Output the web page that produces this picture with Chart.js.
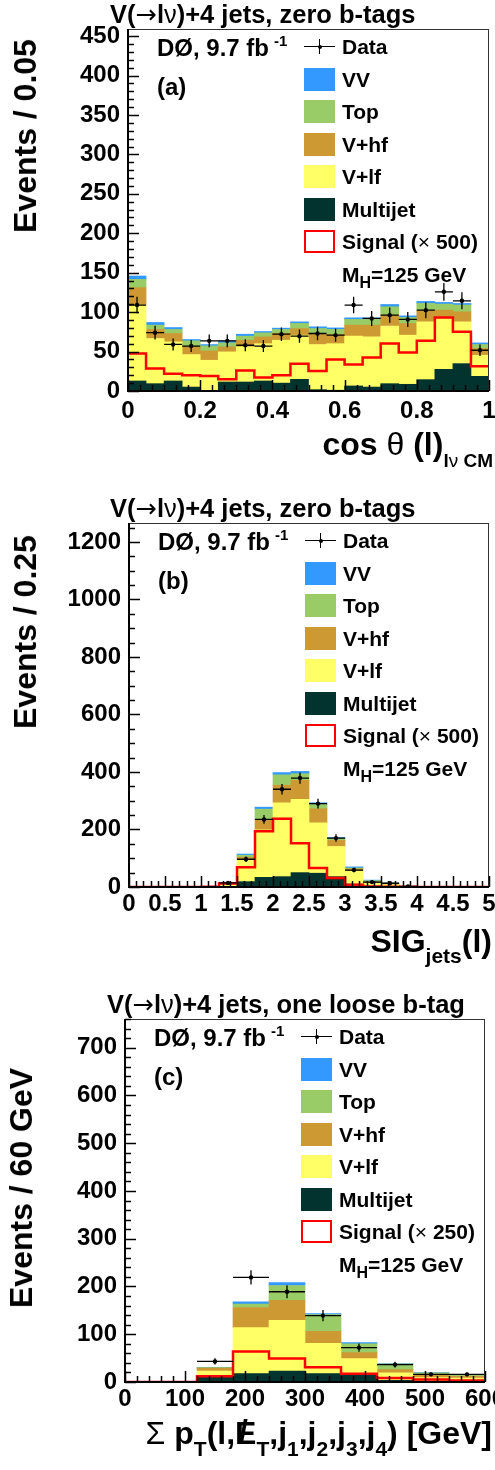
<!DOCTYPE html>
<html>
<head>
<meta charset="utf-8">
<script src="https://cdn.jsdelivr.net/npm/chart.js@4.4.1/dist/chart.umd.min.js"></script>
<style>
body{margin:0;background:#fff;width:495px;height:1470px;position:relative;overflow:hidden;
  font-family:"Liberation Sans",Arial,sans-serif;font-weight:bold;color:#000}
canvas{position:absolute;left:0}
.t{position:absolute;white-space:nowrap;line-height:1;z-index:2}
.sym{font-weight:normal}
.arr{font-weight:normal;font-family:"DejaVu Sans",sans-serif}
.sub{position:relative}
.yt{position:absolute;white-space:nowrap;line-height:1;font-size:32px;transform:translate(-50%,-50%) rotate(-90deg);z-index:2}
</style>
</head>
<body>
<canvas id="chartA" width="495" height="430" style="top:0px"></canvas>
<canvas id="chartB" width="495" height="450" style="top:480px"></canvas>
<canvas id="chartC" width="495" height="440" style="top:990px"></canvas>

<div class="t" style="left:110px;top:2px;font-size:25.5px">V(<span class="arr">→</span>l<span class="sym">ν</span>)+4 jets, zero b-tags</div>
<div class="t" style="left:110px;top:496px;font-size:25.5px">V(<span class="arr">→</span>l<span class="sym">ν</span>)+4 jets, zero b-tags</div>
<div class="t" style="left:107px;top:992px;font-size:25.5px">V(<span class="arr">→</span>l<span class="sym">ν</span>)+4 jets, one loose b-tag</div>

<div class="yt" style="left:25px;top:136px">Events / 0.05</div>
<div class="yt" style="left:25px;top:632px">Events / 0.25</div>
<div class="yt" style="left:21px;top:1188px">Events / 60 GeV</div>

<div class="t" style="right:2px;top:428px;font-size:32px">cos <span class="sym">θ</span> (l)<span class="sub" style="font-size:19px;top:12px">l<span class="sym">ν</span> CM</span></div>
<div class="t" style="right:3px;top:925px;font-size:32px">SIG<span class="sub" style="font-size:21px;top:11px">jets</span>(l)</div>
<div class="t" style="right:3px;top:1417px;font-size:32px"><span class="sym">Σ</span> p<span class="sub" style="font-size:21px;top:12px">T</span>(l,<span style="position:relative">E<span style="position:absolute;left:4px;top:0">/</span></span><span class="sub" style="font-size:21px;top:12px">T</span>,j<span class="sub" style="font-size:21px;top:12px">1</span>,j<span class="sub" style="font-size:21px;top:12px">2</span>,j<span class="sub" style="font-size:21px;top:12px">3</span>,j<span class="sub" style="font-size:21px;top:12px">4</span>) [GeV]</div>

<script>
// bin low edges and widths
const binLowA = [0, 0.05, 0.1, 0.15, 0.2, 0.25, 0.3, 0.35, 0.4, 0.45, 0.5, 0.55, 0.6, 0.65, 0.7, 0.75, 0.8, 0.85, 0.9, 0.95];
const binWidthA = 0.05;
const binLowB = [0, 0.25, 0.5, 0.75, 1, 1.25, 1.5, 1.75, 2, 2.25, 2.5, 2.75, 3, 3.25, 3.5, 3.75, 4, 4.25, 4.5, 4.75];
const binWidthB = 0.25;
const binLowC = [0, 60, 120, 180, 240, 300, 360, 420, 480, 540];
const binWidthC = 60;

// (a) cos theta(l) in the l-nu CM frame, zero b-tags
const multijetA = [12.7, 9.3, 12.7, 5, 0, 11.4, 11.4, 12.7, 10, 14.8, 1.7, 1, 6.4, 5, 9.3, 8.5, 14.4, 27.5, 34.7, 18.6];
const vlfA = [96.3, 57.2, 49.6, 41.2, 39, 38.2, 44.6, 47.3, 54.4, 56, 57.2, 59, 63.1, 63.6, 72.9, 62.3, 73.3, 64.5, 53, 26.7];
const vhfA = [22, 11.5, 10.6, 9.8, 11.8, 6.4, 8.4, 8.6, 8.5, 8.4, 14, 11.6, 14, 14.9, 14, 14.8, 14, 10.5, 12.7, 8.5];
const topA = [10.5, 5.5, 5.1, 7.6, 6.4, 5, 5.1, 5.1, 5.1, 6.4, 6.3, 6.4, 7.2, 7.2, 10.6, 7.6, 9.3, 7.7, 8.6, 5.1];
const vvA = [4.3, 3.4, 2.5, 1.7, 1.7, 2.6, 2.5, 1.7, 1.7, 2.1, 2.2, 2, 2.1, 2.1, 2.9, 2.1, 2.6, 2.1, 2, 2.1];
const dataA = [109, 74, 59, 57, 63.6, 63.6, 58, 57, 72, 69.5, 72.9, 70.8, 109, 92, 96.2, 90.7, 102.5, 125.8, 114.4, 51.7];
const signalA = [47.5, 28.4, 22, 20, 19, 14.8, 26, 17, 20, 34.7, 25.4, 39.8, 33.5, 42.4, 60.2, 48.7, 63.6, 93.2, 75, 31.4];

// (b) SIG_jets(l), zero b-tags
const multijetB = [0, 0, 0, 0, 0, 2, 18.6, 33.7, 36, 50, 48, 36, 10, 2, 1, 0, 0, 0, 0, 0];
const vlfB = [0, 0, 0, 0, 0, 9, 78, 165, 257, 255, 175, 105, 45, 11, 7, 1.5, 0, 0, 0, 0];
const vhfB = [0, 0, 0, 0, 0, 3, 7, 36, 61, 66, 49, 21, 8, 6, 4, 0.5, 0, 0, 0, 0];
const topB = [0, 0, 0, 0, 0, 1, 7, 36, 36, 23, 15, 7, 3, 3, 1.5, 0, 0, 0, 0, 0];
const vvB = [0, 0, 0, 0, 0, 0.5, 4, 7, 8, 8, 6, 3, 4, 2, 0.5, 0, 0, 0, 0, 0];
const dataB = [null, null, null, null, null, 14, 96.5, 235, 340, 379, 290, 170, 59, 17, 13, 2, null, null, null, null];
const signalB = [0, 0, 0, 0, 1, 12, 68.6, 194, 237, 152, 66, 31, 8, 2, 1, 0.5, 0, 0, 0, 0];

// (c) scalar sum pT, one loose b-tag
const multijetC = [0, 0, 13, 17.5, 23, 17.5, 16, 3.5, 2, 3];
const vlfC = [0, 0, 10, 96.5, 106, 63.5, 33, 15.5, 7, 5.4];
const vhfC = [0, 0, 6, 42, 42, 25, 12.5, 7, 5, 3.6];
const topC = [0, 0, 1, 7, 31, 35, 18.5, 11.8, 5, 3.4];
const vvC = [0, 0, 0.5, 5, 6, 2, 2.5, 0.7, 0.6, 0.6];
const dataC = [null, null, 43, 219, 189, 139, 72, 36.4, 16, 16];
const signalC = [0, 0, 11.9, 64, 49, 31, 17.5, 8.4, 5, 3];

// tick labels
const xTicksA = ['0', '0.2', '0.4', '0.6', '0.8', '1'];
const yTicksA = ['0', '50', '100', '150', '200', '250', '300', '350', '400', '450'];
const xTicksB = ['0', '0.5', '1', '1.5', '2', '2.5', '3', '3.5', '4', '4.5', '5'];
const yTicksB = ['0', '200', '400', '600', '800', '1000', '1200'];
const xTicksC = ['0', '100', '200', '300', '400', '500', '600'];
const yTicksC = ['0', '100', '200', '300', '400', '500', '600', '700'];

const colVV = '#3399ff', colTop = '#99cc66', colVhf = '#cc9933', colVlf = '#ffff66', colMJ = '#03332f';
const fontFam = '"Liberation Sans", Arial, sans-serif';

//draws the data error bars, the frame and the inward ROOT style ticks
const rootFrame = {
  id: 'rootFrame',
  afterDatasetsDraw(chart, args, o) {
    const {ctx, chartArea: a, scales: {x, y}} = chart;
    ctx.save();
    ctx.strokeStyle = '#000';
    ctx.lineWidth = 1.3;
    chart.data.datasets.forEach(ds => {
      if (ds.label !== 'Data') return;
      const half = o.binWidth / 2;
      ds.data.forEach(p => {
        if (p.y == null) return;
        const e = Math.sqrt(p.y);
        const px = x.getPixelForValue(p.x), py = y.getPixelForValue(p.y);
        ctx.beginPath();
        ctx.moveTo(x.getPixelForValue(p.x - half), py);
        ctx.lineTo(x.getPixelForValue(p.x + half), py);
        ctx.moveTo(px, y.getPixelForValue(p.y + e));
        ctx.lineTo(px, y.getPixelForValue(Math.max(p.y - e, 0)));
        ctx.stroke();
      });
    });
    // frame
    const L = Math.round(a.left), R = Math.round(a.right), T = Math.round(a.top), B = Math.round(a.bottom);
    ctx.lineWidth = 1;
    ctx.strokeStyle = '#333';
    ctx.strokeRect(L + 0.5, T + 0.5, R - L - 1, B - T);
    ctx.strokeStyle = '#000';
    ctx.lineWidth = 2;
    ctx.beginPath();
    ctx.moveTo(L, T); ctx.lineTo(L, B); ctx.lineTo(R, B);
    ctx.stroke();
    // ticks
    ctx.lineWidth = 1.5;
    const ticks = (scale, step, major, isX) => {
      const n = Math.floor((scale.max - scale.min) / step + 1e-6);
      for (let i = 0; i <= n; i++) {
        const v = scale.min + i * step;
        const isMaj = Math.abs(v / major - Math.round(v / major)) < 1e-6;
        const len = isMaj ? 11 : 6;
        const p = Math.round(scale.getPixelForValue(v)) + 0.5;
        ctx.beginPath();
        if (isX) { ctx.moveTo(p, B); ctx.lineTo(p, B - len); }
        else { ctx.moveTo(L, p); ctx.lineTo(L + len, p); }
        ctx.stroke();
      }
    };
    ticks(x, o.xMinor, o.xMajor, true);
    ticks(y, o.yMinor, o.yMajor, false);
    ctx.restore();
  }
};

function stackSet(label, color, low, width, vals) {
  return {type: 'bar', label: label, backgroundColor: color, borderWidth: 0, order: 2,
    data: low.map((l, i) => ({x: l + width / 2, y: vals[i]}))};
}

function stepPoints(low, width, vals) {
  const pts = low.map((l, i) => ({x: l, y: vals[i]}));
  pts.push({x: low[low.length - 1] + width, y: vals[vals.length - 1]});
  return pts;
}

function makeHist(id, p) {
  const tickFont = {family: fontFam, size: 24, weight: 'bold'};
  return new Chart(document.getElementById(id), {
    data: {
      datasets: [
        {type: 'scatter', label: 'Data', order: 0, pointStyle: 'circle', pointRadius: 2.2,
          backgroundColor: '#000', borderWidth: 0,
          data: p.low.map((l, i) => ({x: l + p.width / 2, y: p.data[i]}))},
        {type: 'line', label: 'Signal', order: 1, stepped: true, borderColor: '#ff0000', borderWidth: 2.5,
          pointRadius: 0, fill: false, data: stepPoints(p.low, p.width, p.signal)},
        stackSet('Multijet', colMJ, p.low, p.width, p.mj),
        stackSet('V+lf', colVlf, p.low, p.width, p.vlf),
        stackSet('V+hf', colVhf, p.low, p.width, p.vhf),
        stackSet('Top', colTop, p.low, p.width, p.top),
        stackSet('VV', colVV, p.low, p.width, p.vv)
      ]
    },
    options: {
      responsive: false,
      animation: false,
      devicePixelRatio: 1,
      layout: {padding: {left: 0, top: p.padTop, right: p.padRight, bottom: 0}},
      datasets: {bar: {categoryPercentage: 1, barPercentage: 1}},
      scales: {
        x: {type: 'linear', stacked: true, offset: false, min: p.xMin, max: p.xMax,
          ticks: {stepSize: p.xMajor, includeBounds: false, autoSkip: false, maxRotation: 0,
            padding: p.xPad, font: tickFont, color: '#000', callback: (v, i) => p.xTicks[i]},
          grid: {display: false, drawTicks: false, offset: false}, border: {display: false},
          afterFit(s) { s.height = p.xHeight; s.paddingLeft = 0; s.paddingRight = 0; }},
        y: {type: 'linear', stacked: true, min: 0, max: p.yMax,
          ticks: {stepSize: p.yMajor, includeBounds: false, padding: 8, font: tickFont, color: '#000',
            callback: (v, i) => p.yTicks[i]},
          grid: {display: false, drawTicks: false}, border: {display: false},
          afterFit(s) { s.width = p.yWidth; s.paddingTop = 0; s.paddingBottom = 0; }}
      },
      plugins: {
        legend: {display: false},
        tooltip: {enabled: false},
        rootFrame: {binWidth: p.width, xMinor: p.xMinor, xMajor: p.xMajor, yMinor: p.yMinor, yMajor: p.yMajor}
      }
    },
    plugins: [rootFrame]
  });
}

function addText(html, left, top, size) {
  const d = document.createElement('div');
  d.className = 't';
  d.innerHTML = html;
  d.style.left = left + 'px';
  d.style.top = top + 'px';
  d.style.fontSize = size + 'px';
  document.body.appendChild(d);
}

function addBox(left, top, style) {
  const d = document.createElement('div');
  d.style.position = 'absolute';
  d.style.left = left + 'px';
  d.style.top = top + 'px';
  d.style.zIndex = 2;
  Object.assign(d.style, style);
  document.body.appendChild(d);
}

//legend and labels inside the frame, placed from the frame's top left corner
function addLegend(L, T, letter, scale) {
  addText('DØ, 9.7 fb<span style="font-size:15px;position:relative;top:-10px;margin-left:5px">-1</span>', L + 29, T + 7, 24);
  addText('(' + letter + ')', L + 29, T + 46, 24);
  const sx = L + 176, tx = L + 214;
  const rows = [['Data'], ['VV', colVV], ['Top', colTop], ['V+hf', colVhf], ['V+lf', colVlf], ['Multijet', colMJ],
    ['Signal (<span class="sym">×</span> ' + scale + ')', 'sig'], ['M<span class="sub" style="font-size:16px;top:6px">H</span>=125 GeV', 'none']];
  rows.forEach((r, i) => {
    const c = T + 17.5 + 32.5 * i;
    if (r[1] === undefined) {
      addBox(sx, c - 0.75, {width: '31px', height: '1.5px', background: '#000'});
      addBox(sx + 14.75, c - 7.5, {width: '1.5px', height: '15px', background: '#000'});
      addBox(sx + 13.5, c - 2, {width: '4px', height: '4px', borderRadius: '2px', background: '#000'});
    } else if (r[1] === 'sig') {
      addBox(sx, c - 11.5, {width: '31px', height: '23px', boxSizing: 'border-box', border: '2px solid #ff0000', background: '#fff'});
    } else if (r[1] !== 'none') {
      addBox(sx, c - 11.5, {width: '31px', height: '23px', background: r[1]});
    }
    addText(r[0], tx, c - 10.5, 21);
  });
}

makeHist('chartA', {low: binLowA, width: binWidthA, mj: multijetA, vlf: vlfA, vhf: vhfA, top: topA, vv: vvA,
  data: dataA, signal: signalA, xMin: 0, xMax: 1, xMajor: 0.2, xMinor: 0.2 / 6, yMax: 459, yMajor: 50, yMinor: 10,
  xTicks: xTicksA, yTicks: yTicksA, padTop: 29, padRight: 6, xHeight: 39, yWidth: 128, xPad: 6});
makeHist('chartB', {low: binLowB, width: binWidthB, mj: multijetB, vlf: vlfB, vhf: vhfB, top: topB, vv: vvB,
  data: dataB, signal: signalB, xMin: 0, xMax: 5, xMajor: 0.5, xMinor: 0.1, yMax: 1266, yMajor: 200, yMinor: 50,
  xTicks: xTicksB, yTicks: yTicksB, padTop: 43, padRight: 6, xHeight: 43, yWidth: 129, xPad: 3});
makeHist('chartC', {low: binLowC, width: binWidthC, mj: multijetC, vlf: vlfC, vhf: vhfC, top: topC, vv: vvC,
  data: dataC, signal: signalC, xMin: 0, xMax: 600, xMajor: 100, xMinor: 20, yMax: 760, yMajor: 100, yMinor: 20,
  xTicks: xTicksC, yTicks: yTicksC, padTop: 29, padRight: 10, xHeight: 48, yWidth: 125, xPad: 3});

addLegend(128, 29, 'a', 500);
addLegend(129, 523, 'b', 500);
addLegend(125, 1019, 'c', 250);
</script>
</body>
</html>
